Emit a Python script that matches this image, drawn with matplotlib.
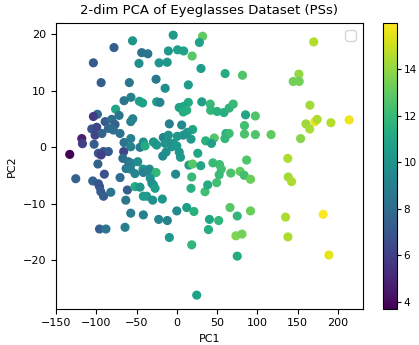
import numpy as np
import matplotlib
matplotlib.use('Agg')
import matplotlib.pyplot as plt

# PC1, PC2, colour value for each sample
pc1 = [
    -55, -78, -43.6, -36, -103.6, -47, -22, -12, -4.5, 32, 28, -10.5, 1, 8.5, 19,
    30, 60, 81.5, -94, -59, -25.8, -14.5, 14.3, 170, 151.6, 144.5, 152,
    -65.5, -57, -46.5, -42.5, -25, -21, 14.3, 3, 8.5, 12.3, 8, 31, 41.5, 42, 50,
    58.5, 65, 70, 85.3, 97.5, -76, -98.6, -103.6, -71.7, -54.7, -57.2, -89, -80.8,
    -76.7, -105.6, -99.4, -85, -78.8, -70.5, -101.5, -93, -118, -117.2, -102.7,
    -65.5, -57.2, -41.6, -29, -27, -25, -16.8, -12.5, -57.2, -45.7, -39.5, -9.3, 6,
    19.7, 13, 8, 0.6, -10.5, 17.6, 46.5, 35.8, 43, 61, 65, 59.8, -14.6, -4.3, -6.3,
    0, 84, 84, 97.5, 117, 165.3, 160.3, 165, 171.5, 174.3, 191.3, 214, 153.7,
    -133, -97.4, -91, -85, -94, -66, -67, -60, -56, -98, -48.5, -17.5, 4.5, 26,
    -13.4, 3, 15, 19.5, 29.7, 44.8, 53, 55.2, 52.6, 86.7, 137.8, -63, -57.5, -42,
    -34, -1.5, -90, -52, -41.6, -35.4, -25.8, 67, 78.5, 83.7, 91.5,
    -125.5, -104.4, -97.4, -96, -94.4, -91, -82, -70.5, -61.4, -63.4, -52, -45.7,
    -33, -31, -29, -27, -41.6, -37.4, -30, -18, -57.2, -41.6, -22.5, -11.8, -96,
    -88, -64.3, -9.3, 0, 12.3, 21.3, 18.5, 24.7, 18.5, 17.6, 35, 38.3, 49.5, 40.5,
    39.3, 52, 66, 75, 91.5, 73.4, 80.9, 75, 138.3, 142.5, 135, 181.8, 138, 188.8,
]
pc2 = [
    18.8, 17.6, 16.7, 16.5, 14.9, 14.8, 14.9, 15.0, 19.8, 19.6, 18.5, 17.0, 17.2,
    17.0, 16.1, 13.9, 13.0, 12.7, 11.4, 11.4, 12.0, 10.4, 11.0, 18.6, 12.9, 11.6,
    11.6,
    8.2, 8.8, 8.1, 7.8, 8.0, 7.9, 7.9, 7.0, 7.2, 6.5, 6.2, 8.0, 7.6, 6.5, 6.3, 6.1,
    6.9, 7.6, 5.7, 5.5, 6.7, 5.8, 5.4, 5.6, 5.0, 4.5, 4.5, 4.9, 4.0, 3.2, 3.5, 3.3,
    3.0, 2.4, 2.1, 2.4, 1.5, 0.6, 0.5, 0.8, 1.5, 0.9, 0.9, 0.65, 0.35, 1.7, 1.5,
    0.05, -0.05, 0.2, 4.1, 3.9, 3.1, 2.6, 2.1, 1.9, 2.1, 1.4, 1.6, 1.1, 0.65, 2.4,
    2.4, 1.5, 0.65, 0.65, 0.05, 0.2, 3.8, 2.3, 2.2, 2.2, 7.4, 4.1, 3.2, 4.5, 4.9,
    4.3, 4.8, 1.5,
    -1.3, -1.1, -0.8, -0.8, -1.4, -0.8, -2.0, -2.6, -2.9, -3.0, -2.6, -1.6, -1.8,
    -1.1, -0.9, -0.9, -3.2, -3.0, -3.3, -2.8, -3.1, -3.9, -4.9, -2.3, -2.0, -3.8,
    -3.9, -3.9, -3.9, -4.8, -4.8, -4.7, -4.5, -4.1, -4.5, -4.6, -4.3, -5.0, -5.7,
    -5.6, -6.0, -6.5, -7.0, -7.9, -8.7, -8.0, -5.4, -7.6, -9.4, -7.0, -7.1, -5.5,
    -6.4, -6.7, -7.3, -8.7, -8.7, -9.4, -9.2, -11.7, -12.0, -12.8, -13.0, -14.5,
    -14.5, -14.2, -16.0, -11.3, -10.7, -11.4, -17.3, -26.2, -5.3, -7.3, -7.9, -6.7,
    -6.3, -12.8, -14.6, -13.0, -10.7, -12.2, -11.3, -15.7, -15.4, -19.3, -5.3,
    -6.1, -12.4, -11.9, -15.9, -19.1,
]
values = [
    10.0, 7.3, 8.3, 8.5, 7.2, 9.8, 10.2, 10.2, 10.3, 13.0, 10.8, 10.3, 10.6, 10.8,
    12.8, 10.5, 11.2, 12.6, 7.3, 8.5, 8.6, 9.8, 10.4, 14.6, 14.0, 13.4, 13.4,
    8.5, 9.0, 10.7, 10.7, 10.5, 9.3, 11.2, 10.8, 11.0, 11.3, 11.3, 10.6, 12.0, 11.8,
    11.5, 11.3, 11.6, 12.0, 11.0, 12.6, 11.0, 8.0, 5.8, 8.5, 9.2, 9.2, 7.2, 8.2,
    7.5, 7.0, 6.3, 7.8, 8.2, 8.3, 6.2, 7.5, 4.8, 6.0, 7.3, 8.4, 9.0, 10.0, 9.8,
    10.5, 10.2, 9.2, 9.0, 9.2, 8.8, 11.2, 9.0, 9.5, 11.0, 10.3, 10.0, 10.2, 10.0,
    10.3, 12.7, 11.5, 10.6, 11.5, 12.2, 11.8, 10.0, 10.2, 10.0, 10.4, 12.3, 12.5,
    12.6, 13.0, 14.3, 14.2, 14.4, 15.6, 14.5, 14.6, 15.7, 13.8,
    3.7, 7.0, 6.8, 7.2, 6.0, 6.3, 8.0, 8.5, 8.8, 7.5, 9.8, 9.5, 10.3, 11.0, 9.8,
    10.2, 10.5, 12.8, 11.0, 12.0, 12.2, 12.3, 12.0, 12.6, 14.5, 8.7, 9.0, 10.0,
    10.2, 9.5, 6.8, 9.3, 9.0, 9.3, 11.8, 12.5, 13.0, 12.3, 13.2,
    7.5, 7.5, 7.0, 7.0, 7.3, 7.3, 8.5, 8.0, 7.3, 8.5, 11.2, 10.2, 10.0, 9.8, 10.0,
    10.6, 10.4, 10.4, 9.8, 10.2, 8.8, 9.0, 9.2, 9.2, 7.3, 8.5, 9.0, 10.2, 9.5,
    10.5, 11.5, 11.8, 10.8, 12.0, 11.5, 12.3, 11.2, 12.3, 11.0, 11.3, 11.8, 12.8,
    11.8, 13.2, 13.6, 13.4, 11.2, 14.3, 14.5, 14.5, 16.0, 14.5, 15.5,
]

fig = plt.figure(figsize=(4.19, 3.45), dpi=100)
ax = fig.add_axes([0.1337, 0.1052, 0.7323, 0.8290])
cax = fig.add_axes([0.9134, 0.1052, 0.0348, 0.8290])

sc = ax.scatter(pc1, pc2, c=values, cmap='viridis', s=31)
ax.set_xlim(-150, 231)
ax.set_ylim(-28.6, 22)
ax.set_xticks([-150, -100, -50, 0, 50, 100, 150, 200])
ax.set_yticks([-20, -10, 0, 10, 20])
ax.tick_params(labelsize=8)
ax.set_xlabel('PC1', fontsize=8)
ax.set_ylabel('PC2', fontsize=8)
ax.set_title('2-dim PCA of Eyeglasses Dataset (PSs)', fontsize=9.5)
ax.legend(loc='upper right')

cb = fig.colorbar(sc, cax=cax)
cb.set_ticks([4, 6, 8, 10, 12, 14])
cb.ax.tick_params(labelsize=7.5, length=3, pad=1.5)

fig.savefig('out.png', dpi=100)
